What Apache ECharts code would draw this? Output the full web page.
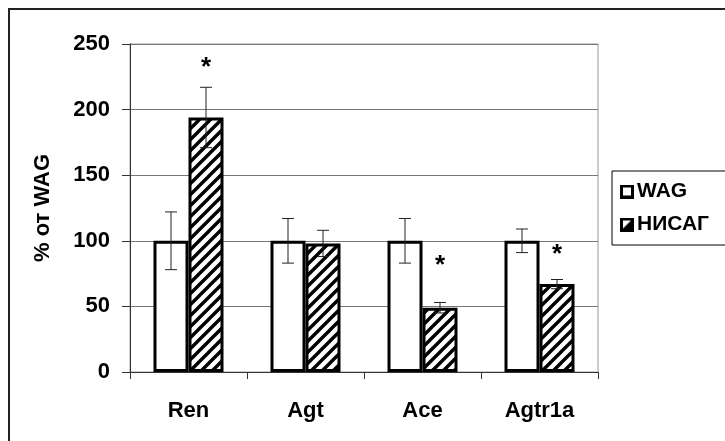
<!DOCTYPE html>
<html>
<head>
<meta charset="utf-8">
<title>% от WAG</title>
<script src="https://cdn.jsdelivr.net/npm/echarts@6/dist/echarts.min.js"></script>
<style>
  html, body { margin: 0; padding: 0; background: #fff; }
  #chart { width: 725px; height: 441px; }
</style>
</head>
<body>
<div id="chart"></div>
<script>
// Expression levels relative to WAG (%), mean and error
const categories = ['Ren', 'Agt', 'Ace', 'Agtr1a'];
const wagValues = [100, 100, 100, 100];
const wagErrors = [22, 17, 17, 9];
const nisagValues = [194, 98, 49, 67];
const nisagErrors = [23, 10, 4, 3.5];
// Height of the significance asterisk over the НИСАГ bar (null = none)
const starLevels = [232, null, 81, 89];
const yTicks = [0, 50, 100, 150, 200, 250];

const FONT = '"Liberation Sans", Arial, sans-serif';
const BAR_W = 35;

// Diagonal hatch tile for the НИСАГ bars
function hatchTile() {
  const s = 11;
  const c = document.createElement('canvas');
  c.width = s; c.height = s;
  const g = c.getContext('2d');
  g.fillStyle = '#fff';
  g.fillRect(0, 0, s, s);
  g.strokeStyle = '#000';
  g.lineWidth = 3.4;
  g.beginPath();
  g.moveTo(-2, s + 2); g.lineTo(s + 2, -2);
  g.moveTo(-2, 2); g.lineTo(2, -2);
  g.moveTo(s - 2, s + 2); g.lineTo(s + 2, s - 2);
  g.stroke();
  return c;
}

// Legend swatches
function swatch(filled) {
  const s = 14;
  const c = document.createElement('canvas');
  c.width = s; c.height = s;
  const g = c.getContext('2d');
  g.fillStyle = '#fff';
  g.fillRect(0, 0, s, s);
  if (filled) {
    g.fillStyle = '#000';
    g.beginPath();
    g.moveTo(s, 0); g.lineTo(s, s); g.lineTo(0, s);
    g.closePath();
    g.fill();
  }
  g.strokeStyle = '#000';
  g.lineWidth = 3;
  g.strokeRect(1.5, 1.5, s - 3, s - 3);
  return 'image://' + c.toDataURL();
}

const wagErrData = categories.map((c, i) => [i, wagValues[i], wagErrors[i]]);
const nisagErrData = categories.map((c, i) => [i, nisagValues[i], nisagErrors[i]]);
const starData = categories.map((c, i) => [i, starLevels[i]]).filter(d => d[1] != null);

function errorBar(offset) {
  return function (params, api) {
    const i = api.value(0), v = api.value(1), e = api.value(2);
    const top = api.coord([i, v + e]);
    const bot = api.coord([i, v - e]);
    const x = top[0] + offset;
    const cap = 6;
    const style = { stroke: '#222', lineWidth: 1 };
    return {
      type: 'group',
      children: [
        { type: 'line', shape: { x1: x, y1: top[1], x2: x, y2: bot[1] }, style },
        { type: 'line', shape: { x1: x - cap, y1: top[1], x2: x + cap, y2: top[1] }, style },
        { type: 'line', shape: { x1: x - cap, y1: bot[1], x2: x + cap, y2: bot[1] }, style }
      ]
    };
  };
}

const chart = echarts.init(document.getElementById('chart'), null, { renderer: 'canvas' });

chart.setOption({
  backgroundColor: '#fff',
  animation: false,
  textStyle: { fontFamily: FONT },
  graphic: [{
    type: 'rect',
    shape: { x: 9, y: 9, width: 900, height: 900 },
    style: { fill: 'none', stroke: '#222', lineWidth: 2 },
    silent: true
  }],
  grid: {
    left: 130, right: 127, top: 44, bottom: 69,
    show: true, borderColor: '#999', borderWidth: 1, backgroundColor: 'transparent'
  },
  legend: {
    left: 612, top: 171,
    orient: 'vertical',
    itemWidth: 14, itemHeight: 14, itemGap: 12,
    padding: [10, 30, 10, 8],
    borderColor: '#000', borderWidth: 1,
    backgroundColor: '#fff',
    textStyle: { fontFamily: FONT, fontWeight: 'bold', fontSize: 21, color: '#000', padding: [0, 0, 0, -2] },
    data: [
      { name: 'WAG', icon: swatch(false) },
      { name: 'НИСАГ', icon: swatch(true) }
    ]
  },
  xAxis: {
    type: 'category',
    data: categories,
    axisLine: { lineStyle: { color: '#333', width: 1 } },
    axisTick: { show: true, length: 7, lineStyle: { color: '#333' } },
    axisLabel: { fontFamily: FONT, fontWeight: 'bold', fontSize: 22, color: '#000', margin: 28 }
  },
  yAxis: {
    type: 'value',
    min: yTicks[0], max: yTicks[yTicks.length - 1], interval: 50,
    name: '% от WAG',
    nameLocation: 'middle',
    nameGap: 76,
    nameTextStyle: { fontFamily: FONT, fontWeight: 'bold', fontSize: 22, color: '#000' },
    axisLine: { show: true, lineStyle: { color: '#333', width: 1 } },
    axisTick: { show: true, length: 8, lineStyle: { color: '#333' } },
    axisLabel: { fontFamily: FONT, fontWeight: 'bold', fontSize: 22, color: '#000', margin: 20 },
    splitLine: { lineStyle: { color: '#777', width: 1 } }
  },
  series: [
    {
      name: 'WAG', type: 'bar', data: wagValues,
      barWidth: BAR_W, barGap: '0%',
      itemStyle: { color: '#fff', borderColor: '#000', borderWidth: 3 }
    },
    {
      name: 'НИСАГ', type: 'bar', data: nisagValues,
      barWidth: BAR_W, barGap: '0%',
      itemStyle: { color: { image: hatchTile(), repeat: 'repeat' }, borderColor: '#000', borderWidth: 3 }
    },
    {
      type: 'custom', data: wagErrData, renderItem: errorBar(-BAR_W / 2), z: 5, silent: true
    },
    {
      type: 'custom', data: nisagErrData, renderItem: errorBar(BAR_W / 2), z: 5, silent: true
    },
    {
      type: 'custom', data: starData, z: 6, silent: true,
      renderItem: function (params, api) {
        const p = api.coord([api.value(0), api.value(1)]);
        return {
          type: 'text',
          x: p[0] + BAR_W / 2, y: p[1],
          style: {
            text: '*', fill: '#000', font: 'bold 26px ' + FONT,
            textAlign: 'center', textVerticalAlign: 'middle'
          }
        };
      }
    }
  ]
});
</script>
</body>
</html>
